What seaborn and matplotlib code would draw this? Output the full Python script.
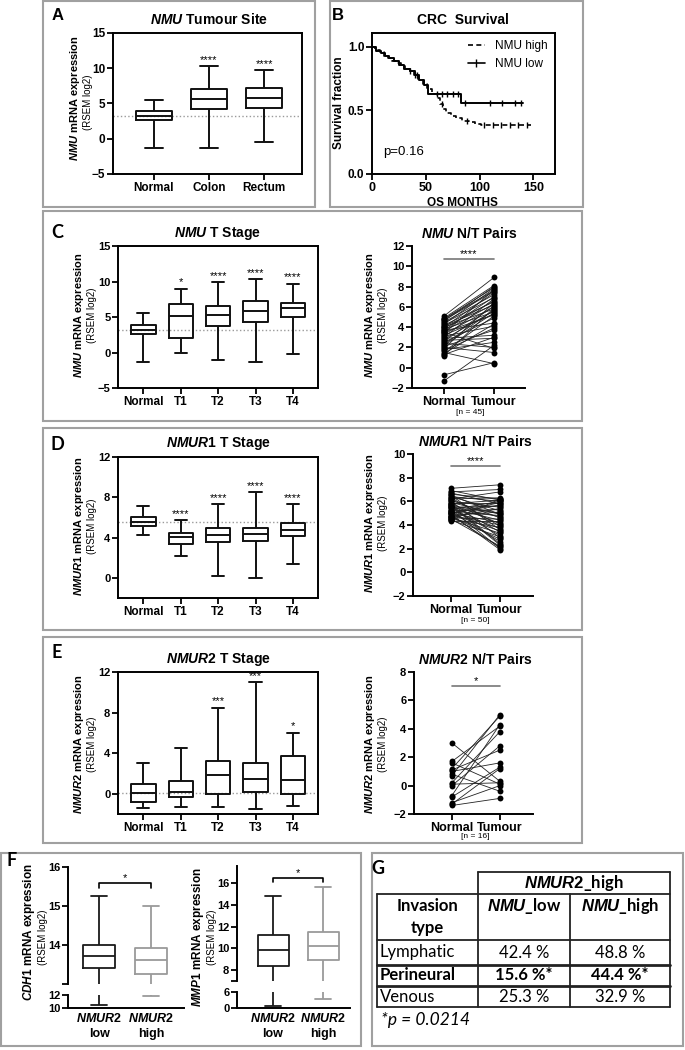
import numpy as np
import pandas as pd
import seaborn as sns
import matplotlib.pyplot as plt
from matplotlib.lines import Line2D
from matplotlib.patches import Rectangle

W, H = 685, 1050

# five-number summaries: [min, q1, median, q3, max]
site_names = ["Normal", "Colon", "Rectum"]
nmu_site = [[-1.3, 2.6, 3.2, 3.9, 5.5], [-1.3, 4.2, 5.7, 7.0, 10.3], [-0.4, 4.4, 5.8, 7.2, 9.7]]
nmu_site_sig = ["", "****", "****"]

stage_names = ["Normal", "T1", "T2", "T3", "T4"]
nmu_stage = [[-1.3, 2.6, 3.2, 3.9, 5.5], [0.0, 2.0, 5.1, 6.8, 9.0], [-1.1, 3.8, 5.3, 6.6, 9.9],
             [-1.3, 4.3, 5.8, 7.2, 10.3], [-0.2, 5.0, 6.2, 7.0, 9.7]]
nmu_stage_sig = ["", "*", "****", "****", "****"]
nmur1_stage = [[4.3, 5.1, 5.5, 6.0, 7.1], [2.2, 3.4, 4.05, 4.5, 5.7], [0.2, 3.6, 4.25, 5.0, 7.3],
               [0.0, 3.7, 4.4, 5.0, 8.5], [1.4, 4.2, 4.8, 5.4, 7.3]]
nmur1_stage_sig = ["", "****", "****", "****", "****"]
nmur2_stage = [[-1.4, -0.8, 0.05, 0.95, 3.0], [-1.3, -0.35, 0.15, 1.25, 4.5], [-1.3, 0.0, 1.8, 3.25, 8.5],
               [-1.5, 0.2, 1.5, 3.0, 11.0], [-1.2, -0.05, 1.4, 3.7, 6.0]]
nmur2_stage_sig = ["", "", "***", "***", "*"]

# Kaplan-Meier steps (months, survival fraction)
km_high_t = [0, 3, 7, 11, 15, 19, 23, 27, 31, 35, 39, 43, 47, 51, 56, 60, 63, 66, 69, 73, 78, 84, 90, 96, 101, 148]
km_high_s = [1.0, 0.98, 0.96, 0.93, 0.91, 0.89, 0.87, 0.85, 0.83, 0.81, 0.78, 0.75, 0.71, 0.67, 0.63,
             0.60, 0.55, 0.51, 0.48, 0.46, 0.44, 0.42, 0.41, 0.395, 0.385, 0.385]
km_low_t = [0, 4, 8, 12, 16, 20, 25, 30, 35, 40, 44, 48, 52, 83, 140]
km_low_s = [1.0, 0.97, 0.95, 0.93, 0.91, 0.89, 0.86, 0.83, 0.81, 0.78, 0.74, 0.70, 0.63, 0.555, 0.555]
km_high_cens = [40, 65, 88, 104, 112, 120, 128, 136, 144]
km_low_cens = [35, 42, 60, 65, 70, 75, 80, 86, 110, 121, 133, 138]

# paired normal / tumour values
nmu_normal = [5.1, 4.9, 4.8, 4.8, 4.6, 4.5, 4.4, 4.3, 4.2, 4.1,
              4.0, 4.0, 3.9, 3.8, 3.7, 3.7, 3.6, 3.5, 3.4, 3.3,
              3.2, 3.1, 3.0, 2.9, 2.8, 2.7, 2.6, 2.5, 2.4, 2.2,
              2.1, 2.0, 1.9, 1.8, 1.6, 1.5, 1.4, 1.3, 1.2, 4.7,
              3.5, 2.3, 1.7, -0.7, -1.3]
nmu_tumour = [8.9, 8.1, 7.9, 7.6, 8.0, 7.2, 6.9, 7.8, 6.5, 6.2,
              7.4, 5.8, 6.6, 5.5, 7.0, 4.4, 6.3, 5.2, 7.7, 6.0,
              5.3, 4.1, 6.8, 3.2, 5.6, 2.9, 6.1, 4.9, 2.0, 5.4,
              3.7, 1.5, 6.4, 2.5, 5.1, 0.4, 4.3, 3.0, 5.9, 7.5,
              1.9, 5.7, 3.9, 0.5, 2.2]
nmur1_normal = [7.1, 6.9, 6.8, 6.7, 6.6, 6.5, 6.4, 6.4, 6.3, 6.2,
                6.1, 6.0, 6.0, 5.9, 5.8, 5.8, 5.7, 5.6, 5.6, 5.5,
                5.5, 5.4, 5.4, 5.3, 5.3, 5.2, 5.2, 5.1, 5.1, 5.0,
                5.0, 4.9, 4.9, 4.8, 4.8, 4.7, 4.7, 4.6, 4.6, 4.5,
                4.5, 4.4, 4.4, 4.3, 6.2, 5.7, 5.0, 6.5, 5.9, 4.8]
nmur1_tumour = [7.4, 6.1, 7.0, 5.8, 6.2, 4.9, 6.0, 5.2, 3.9, 6.3,
                4.6, 5.5, 2.9, 5.9, 4.1, 6.1, 3.4, 5.0, 2.3, 4.7,
                5.6, 3.1, 4.4, 6.0, 2.0, 5.3, 3.7, 4.8, 2.6, 5.7,
                4.2, 3.5, 1.9, 5.1, 4.0, 2.8, 5.4, 3.3, 4.5, 2.2,
                3.8, 6.2, 3.0, 4.3, 6.8, 2.4, 5.9, 3.6, 4.9, 2.1]
nmur2_normal = [3.0, 1.7, 1.6, 1.2, 1.1, 1.0, 0.8, 0.7, 0.2, 0.1, 0.0, -0.7, -0.8, -1.2, -1.3, -1.4]
nmur2_tumour = [0.3, 4.2, 0.1, 4.9, 2.5, 1.6, -0.4, 5.0, 3.8, 0.2, 2.8, 4.3, 1.3, 0.0, 1.2, -0.9]

f_groups = ["low", "high"]
cdh1 = [[10.5, 13.4, 13.72, 14.0, 15.25], [11.8, 13.25, 13.62, 13.93, 15.0]]
mmp1 = [[0.9, 8.4, 9.85, 11.2, 14.8], [3.5, 8.9, 10.25, 11.55, 15.7]]

inv_types = ["Lymphatic", "Perineural", "Venous"]
nmu_low_pct = ["42.4 %", "15.6 %*", "25.3 %"]
nmu_high_pct = ["48.8 %", "44.4 %*", "32.9 %"]

sns.set_style("ticks", {"axes.edgecolor": "k", "xtick.color": "k", "ytick.color": "k",
                        "text.color": "k", "axes.labelcolor": "k"})
plt.rcParams["font.family"] = ["Liberation Sans", "DejaVu Sans"]
plt.rcParams["font.weight"] = "bold"
plt.rcParams["mathtext.fontset"] = "custom"
plt.rcParams["mathtext.it"] = "Liberation Sans:italic:bold"
plt.rcParams["mathtext.rm"] = "Liberation Sans:bold"
plt.rcParams["mathtext.bf"] = "Liberation Sans:bold"
plt.rcParams["axes.linewidth"] = 1.4

CAL = ["Lato", "DejaVu Sans"]

fig = plt.figure(figsize=(6.85, 10.5), dpi=100)
ov = fig.add_axes([0, 0, 1, 1])
ov.set_xlim(0, W)
ov.set_ylim(H, 0)
ov.axis("off")


def T(x, y, s, size, **kw):
    kw.setdefault("ha", "center")
    kw.setdefault("va", "center")
    return ov.text(x, y, s, fontsize=size, **kw)


def px_axes(x0, y0, x1, y1):
    ax = fig.add_axes([x0 / W, 1 - y1 / H, (x1 - x0) / W, (y1 - y0) / H])
    ax.set_facecolor("none")
    return ax


def five_num_frame(names, stats):
    return pd.DataFrame({"group": [n for n, s in zip(names, stats) for _ in s],
                         "value": [v for s in stats for v in s]})


def boxes(ax, names, stats, colors=None, width=0.65, lw=1.4):
    pal = colors if colors else ["#111111"] * len(names)
    sns.boxplot(data=five_num_frame(names, stats), x="group", y="value", hue="group",
                palette=pal, fill=False, whis=(0, 100), width=width, linewidth=lw,
                legend=False, ax=ax)


def sig_marks(ax, stats, sig, pad):
    for i, (s, st) in enumerate(zip(stats, sig)):
        if st:
            ax.text(i, s[4] + pad, st, ha="center", va="bottom", fontsize=8,
                    fontweight="normal")


def finish(ax, ysize, xsize, box=True):
    ax.set_xlabel("")
    ax.set_ylabel("")
    ax.spines["top"].set_visible(box)
    ax.spines["right"].set_visible(box)
    ax.tick_params(axis="y", labelsize=ysize, length=4, width=1.3, pad=1.5)
    ax.tick_params(axis="x", labelsize=xsize, length=4, width=1.3, pad=2)


def pairs(ax, normal, tumour, sig_y, sig):
    n = len(normal)
    df = pd.DataFrame({"pair": list(range(n)) * 2,
                       "tissue": ["Normal"] * n + ["Tumour"] * n,
                       "value": list(normal) + list(tumour)})
    sns.lineplot(data=df, x="tissue", y="value", units="pair", estimator=None,
                 color="#222222", linewidth=0.6, ax=ax)
    sns.scatterplot(data=df, x="tissue", y="value", color="k", s=18, linewidth=0, zorder=3, ax=ax)
    ax.plot([0, 1], [sig_y, sig_y], color="#777777", lw=1.2)
    ax.text(0.5, sig_y, sig, ha="center", va="bottom", fontsize=8, fontweight="normal")


def step_at(t, times, surv):
    return surv[np.searchsorted(times, t, side="right") - 1]


# panel frames and letters
for x0, y0, x1, y1 in [(43, 1, 315, 207), (330, 1, 583, 207), (43, 211, 582, 421),
                       (43, 428, 582, 630), (43, 637, 582, 843), (1, 853, 361, 1046),
                       (372, 853, 683, 1046)]:
    ov.add_patch(Rectangle((x0, y0), x1 - x0, y1 - y0, fill=False, ec="#a0a0a0", lw=1.5))
T(58, 15, "A", 12)
T(338, 15, "B", 12)
for lab, (x, y) in zip("CDEFG", [(57, 233), (57, 444), (57, 652), (12, 860), (378, 868)]):
    T(x, y, lab, 13, family=CAL)

# ---- A ----
axA = px_axes(113, 33, 302, 174)
axA.axhline(nmu_site[0][2], color="#9a9a9a", ls=":", lw=1, zorder=0)
boxes(axA, site_names, nmu_site)
sig_marks(axA, nmu_site, nmu_site_sig, 0.2)
axA.set_ylim(-5, 15)
axA.set_yticks([-5, 0, 5, 10, 15])
axA.set_xlim(-0.745, 2.69)
finish(axA, 8.5, 8.5)
T(209, 20, r"$\mathit{NMU}$ Tumour Site", 10)
T(75, 98, r"$\mathit{NMU}$ mRNA expression", 8, rotation=90)
T(88, 102, "(RSEM log2)", 7, rotation=90, fontweight="normal")

# ---- B ----
axB = px_axes(372, 33, 555, 174)
sns.lineplot(x=km_high_t, y=km_high_s, drawstyle="steps-post", color="k", lw=1.2,
             linestyle=(0, (3, 2)), estimator=None, ax=axB)
sns.lineplot(x=km_low_t, y=km_low_s, drawstyle="steps-post", color="k", lw=1.4,
             estimator=None, ax=axB)
sns.scatterplot(x=km_high_cens, y=[step_at(t, km_high_t, km_high_s) for t in km_high_cens],
                marker="|", s=25, color="k", linewidth=1, ax=axB)
sns.scatterplot(x=km_low_cens, y=[step_at(t, km_low_t, km_low_s) for t in km_low_cens],
                marker="|", s=25, color="k", linewidth=1, ax=axB)
axB.set_xlim(0, 170)
axB.set_ylim(0, 1.11)
axB.set_xticks([0, 50, 100, 150])
axB.set_yticks([0, 0.5, 1.0])
axB.set_yticklabels(["0.0", "0.5", "1.0"])
finish(axB, 8.5, 9)
axB.legend(handles=[Line2D([], [], color="k", lw=1.2, ls=(0, (3, 2))),
                    Line2D([], [], color="k", lw=1.2, marker="|", ms=6)],
           labels=["NMU high", "NMU low"], loc="upper right", frameon=False,
           prop={"size": 8.5, "weight": "normal"}, handlelength=1.4, handletextpad=0.9,
           borderaxespad=0.2)
axB.text(10, 0.17, "p=0.16", fontsize=9.5, fontweight="normal", va="center")
T(463, 20, "CRC  Survival", 10)
T(462, 203, "OS MONTHS", 8.5)
T(339, 103, "Survival fraction", 8.5, rotation=90)


# ---- C, D, E ----
def stage_panel(top, bottom, stats, sig, ylim, yticks, pad, gene, ylab_y, title_y):
    ax = px_axes(118, top, 318, bottom)
    ax.axhline(stats[0][2], color="#9a9a9a", ls=":", lw=1, zorder=0)
    boxes(ax, stage_names, stats)
    sig_marks(ax, stats, sig, pad)
    ax.set_ylim(*ylim)
    ax.set_yticks(yticks)
    ax.set_xlim(-0.68, 4.67)
    finish(ax, 8, 8.5)
    T(218, title_y, r"$\mathit{%s}$ T Stage" % gene, 10)
    T(79, ylab_y, r"$\mathit{%s}$ mRNA expression" % gene, 8, rotation=90)
    T(92, ylab_y, "(RSEM log2)", 7, rotation=90, fontweight="normal")


def pair_panel(box, normal, tumour, xlim, ylim, yticks, sig_y, sig, gene, ylab_y, title_xy, n_y):
    ax = px_axes(*box)
    pairs(ax, normal, tumour, sig_y, sig)
    ax.set_xlim(*xlim)
    ax.set_ylim(*ylim)
    ax.set_yticks(yticks)
    finish(ax, 8, 9, box=False)
    T(title_xy[0], title_xy[1], r"$\mathit{%s}$ N/T Pairs" % gene, 10)
    T(370, ylab_y, r"$\mathit{%s}$ mRNA expression" % gene, 8, rotation=90)
    T(383, ylab_y, "(RSEM log2)", 7, rotation=90, fontweight="normal")
    T(title_xy[0], n_y, "[n = %d]" % len(normal), 6, fontweight="normal")


stage_panel(246, 388, nmu_stage, nmu_stage_sig, (-5, 15), [-5, 0, 5, 10, 15], 0.2, "NMU", 315, 233)
pair_panel((412, 246, 525, 388), nmu_normal, nmu_tumour, (-0.64, 1.62), (-2, 12),
           [-2, 0, 2, 4, 6, 8, 10, 12], 10.7, "****", "NMU", 315, (470, 233), 412)

stage_panel(457, 598, nmur1_stage, nmur1_stage_sig, (-2, 12), [0, 4, 8, 12], 0.15, "NMUR1", 526, 444)
pair_panel((413, 454, 533, 596), nmur1_normal, nmur1_tumour, (-0.78, 1.67), (-2, 10),
           [-2, 0, 2, 4, 6, 8, 10], 9.0, "****", "NMUR1", 523, (475, 442), 620)

stage_panel(672, 814, nmur2_stage, nmur2_stage_sig, (-2, 12), [0, 4, 8, 12], 0.15, "NMUR2", 744, 660)
pair_panel((414, 672, 533, 814), nmur2_normal, nmur2_tumour, (-0.79, 1.69), (-2, 8),
           [-2, 0, 2, 4, 6, 8], 7.0, "*", "NMUR2", 744, (475, 660), 837)


# ---- F ----
def broken_panel(x0, x1, top_rows, bot_rows, stats, top_lim, top_ticks, top_labels,
                 bot_lim, bot_ticks, xlim, bracket_y, bracket_d):
    ax_t = px_axes(x0, top_rows[0], x1, top_rows[1])
    ax_b = px_axes(x0, bot_rows[0], x1, bot_rows[1])
    for ax in (ax_t, ax_b):
        boxes(ax, f_groups, stats, colors=["#1a1a1a", "#9a9a9a"], width=0.62, lw=1.3)
        ax.set_xlim(*xlim)
        finish(ax, 8, 9, box=False)
    ax_t.set_ylim(*top_lim)
    ax_t.set_yticks(top_ticks)
    ax_t.set_yticklabels(top_labels)
    ax_t.spines["bottom"].set_visible(False)
    ax_t.tick_params(axis="x", length=0, labelbottom=False)
    ax_b.set_ylim(*bot_lim)
    ax_b.set_yticks(bot_ticks)
    ax_b.tick_params(axis="x", length=0, pad=3)
    ax_b.set_xticks([0, 1])
    ax_b.set_xticklabels([r"$\mathit{NMUR2}$" + "\n" + g for g in f_groups], linespacing=1.3)
    ax_t.plot([0, 0, 1, 1], [bracket_y - bracket_d, bracket_y, bracket_y, bracket_y - bracket_d],
              color="k", lw=1.2, clip_on=False)
    ax_t.text(0.5, bracket_y, "*", ha="center", va="bottom", fontsize=8, fontweight="normal")


broken_panel(68, 184, (867, 984), (995, 1008), cdh1, (13, 16), [13, 14, 15, 16], ["", "14", "15", "16"],
             (10, 12), [10, 12], (-0.6, 1.63), 15.58, 0.12)
broken_panel(237, 350, (866, 981), (992, 1008), mmp1, (7, 17.6), [7, 8, 10, 12, 14, 16],
             ["", "8", "10", "12", "14", "16"], (0, 6), [0, 6], (-0.72, 1.54), 16.46, 0.35)
T(29, 932, r"$\mathit{CDH1}$ mRNA expression", 8.5, rotation=90)
T(43, 937, "(RSEM log2)", 7, rotation=90, fontweight="normal")
T(198, 937, r"$\mathit{MMP1}$ mRNA expression", 8.5, rotation=90)
T(212, 937, "(RSEM log2)", 7, rotation=90, fontweight="normal")

# ---- G table ----
col_x = [377, 478, 570, 670]
row_y = [872, 894, 940, 965, 986, 1007]
ov.plot([col_x[1], col_x[3]], [row_y[0], row_y[0]], color="#222", lw=1.3)
for i, y in enumerate(row_y[1:], start=1):
    ov.plot([col_x[0], col_x[3]], [y, y], color="#222", lw=2.0 if i in (3, 4) else 1.3)
for j, x in enumerate(col_x):
    ov.plot([x, x], [row_y[0] if j in (1, 3) else row_y[1], row_y[-1]], color="#222", lw=1.3)

T((col_x[1] + col_x[3]) / 2, 883, r"$\mathit{NMUR2}$_high", 12, family=CAL)
T((col_x[0] + col_x[1]) / 2, 917, "Invasion\ntype", 12, family=CAL, linespacing=1.45)
T((col_x[1] + col_x[2]) / 2, 906, r"$\mathit{NMU}$_low", 12, family=CAL)
T((col_x[2] + col_x[3]) / 2, 906, r"$\mathit{NMU}$_high", 12, family=CAL)
for k, (name, lo, hi) in enumerate(zip(inv_types, nmu_low_pct, nmu_high_pct)):
    yc = (row_y[2 + k] + row_y[3 + k]) / 2
    wt = "bold" if lo.endswith("*") else "normal"
    T(col_x[0] + 3, yc, name, 12, family=CAL, ha="left", fontweight=wt)
    T((col_x[1] + col_x[2]) / 2, yc, lo, 12, family=CAL, fontweight=wt)
    T((col_x[2] + col_x[3]) / 2, yc, hi, 12, family=CAL, fontweight=wt)
T(381, 1020, "*p = 0.0214", 12.5, family=CAL, ha="left", fontweight="normal", style="italic")

fig.savefig("out.png", dpi=100)
